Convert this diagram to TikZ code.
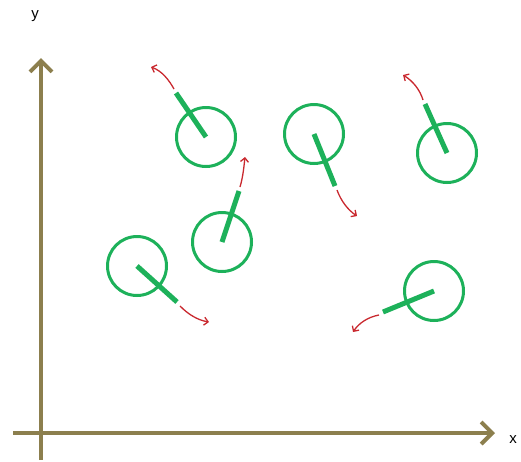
\documentclass[tikz,border=0pt]{standalone}
\usepackage{fontspec}
\setmainfont{Liberation Sans}
\usetikzlibrary{arrows.meta}
\definecolor{axiscol}{HTML}{8C7F4E}
\definecolor{wheel}{HTML}{1DB15A}
\definecolor{arr}{HTML}{C9282E}
\begin{document}
\begin{tikzpicture}[x=1pt,y=-1pt,
  axis/.style={draw=axiscol,line width=4pt,-{Straight Barb[length=11pt,width=22pt,line width=4pt]}},
  wheelnode/.style={circle,draw=wheel,line width=3pt,minimum size=59pt,inner sep=0pt},
  stick/.style={draw=wheel,line width=5pt},
  motion/.style={draw=arr,line width=1.3pt,-{Straight Barb[length=4pt,width=8pt,line width=1.3pt]}},
  lbl/.style={font=\fontsize{15}{15}\selectfont,inner sep=0pt}]
\useasboundingbox (0,0) rectangle (521,461);
% axes
\coordinate (ybot) at (41,460);
\coordinate (ytop) at (41,58);
\coordinate (xleft) at (13,433);
\coordinate (xright) at (495,433);
\draw[axis] (ybot) -- (ytop);
\draw[axis] (xleft) -- (xright);
\node[lbl] (ylab) at (35,16) {y};
\node[lbl] (xlab) at (513,440) {x};
% wheels
\node[wheelnode] (c1) at (206,137) {};
\node[wheelnode] (c2) at (222,242) {};
\node[wheelnode] (c3) at (314,134) {};
\node[wheelnode] (c4) at (447,153) {};
\node[wheelnode] (c5) at (137,266) {};
\node[wheelnode] (c6) at (434,291) {};
% stick ends
\coordinate (s1) at (176,93);
\coordinate (s2) at (239,191);
\coordinate (s3) at (335,186);
\coordinate (s4) at (425,104);
\coordinate (s5) at (177,302);
\coordinate (s6) at (383,312);
\draw[stick] (c1.center) -- (s1);
\draw[stick] (c2.center) -- (s2);
\draw[stick] (c3.center) -- (s3);
\draw[stick] (c4.center) -- (s4);
\draw[stick] (c5.center) -- (s5);
\draw[stick] (c6.center) -- (s6);
% motion arrows
\coordinate (a1s) at (174,89);  \coordinate (a1e) at (151,67);
\coordinate (a2s) at (240,187); \coordinate (a2e) at (245,157);
\coordinate (a3s) at (337,190); \coordinate (a3e) at (357,216);
\coordinate (a4s) at (423,100); \coordinate (a4e) at (403,75);
\coordinate (a5s) at (180,306); \coordinate (a5e) at (209,322);
\coordinate (a6s) at (379,315); \coordinate (a6e) at (353,332);
\draw[motion] (a1s) .. controls (169,80) and (162,71) .. (a1e);
\draw[motion] (a2s) .. controls (243,177) and (244,166) .. (a2e);
\draw[motion] (a3s) .. controls (341,201) and (348,210) .. (a3e);
\draw[motion] (a4s) .. controls (420,90) and (413,81) .. (a4e);
\draw[motion] (a5s) .. controls (188,314) and (197,320) .. (a5e);
\draw[motion] (a6s) .. controls (368,317) and (359,323) .. (a6e);
\end{tikzpicture}
\end{document}
